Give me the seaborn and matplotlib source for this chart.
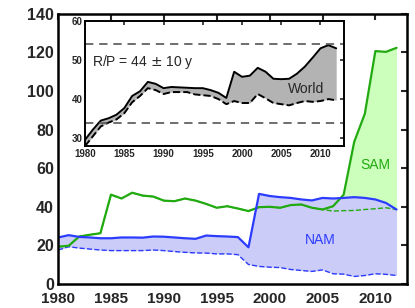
import numpy as np
import pandas as pd
import matplotlib
matplotlib.use('Agg')
import matplotlib.pyplot as plt
import seaborn as sns

# Years shared by all series
years = list(range(1980, 2013))

# North America: upper (solid) and lower (dashed) estimates
nam_hi = [24.1, 25.3, 24.4, 24.1, 23.7, 23.7, 24.1, 24.1, 24.0, 24.6, 24.5,
          24.1, 23.7, 23.4, 25.1, 24.8, 24.6, 24.3, 19.0, 46.7, 45.6,
          45.0, 44.6, 43.8, 43.3, 44.6, 44.3, 44.6, 45.0, 44.6, 43.8, 42.0, 38.6]
nam_lo = [17.6, 19.3, 18.6, 18.1, 17.6, 17.3, 17.3, 17.3, 17.3, 17.6, 17.3,
          16.8, 16.4, 16.1, 16.0, 15.6, 15.6, 15.2, 10.1, 9.1, 8.7,
          8.5, 7.5, 7.0, 6.5, 7.3, 5.3, 5.1, 3.9, 4.4, 5.3, 5.0, 4.4]

# South America
sam_hi = [19.3, 19.8, 24.6, 25.5, 26.3, 46.3, 44.3, 47.3, 45.8, 45.3, 43.2,
          42.9, 44.3, 43.2, 41.5, 39.5, 40.3, 39.1, 37.8, 39.8, 40.0,
          39.5, 40.9, 41.2, 39.5, 38.6, 40.3, 46.3, 73.7, 88.2, 120.7, 120.3, 122.4]
sam_lo = [19.3, 19.8, 24.6, 25.5, 26.3, 46.3, 44.3, 47.3, 45.8, 45.3, 43.2,
          42.9, 44.3, 43.2, 41.5, 39.5, 40.3, 39.1, 37.8, 39.8, 40.0,
          39.5, 40.9, 41.2, 39.5, 38.6, 37.8, 38.0, 38.1, 38.6, 39.0, 39.5, 38.6]

# World (inset)
world_hi = [29.6, 32.2, 34.5, 35.1, 36.0, 37.7, 40.8, 42.0, 44.4, 43.9, 42.8,
            43.1, 43.0, 42.9, 42.8, 42.8, 42.3, 41.6, 40.3, 47.0, 45.7,
            46.0, 48.0, 47.0, 45.2, 45.1, 45.2, 46.5, 48.3, 50.6, 53.0, 53.8, 53.0]
world_lo = [28.0, 30.5, 33.0, 34.0, 34.8, 36.4, 39.2, 40.8, 42.8, 42.3, 41.3,
            41.8, 41.8, 41.8, 41.2, 41.0, 40.8, 40.0, 38.7, 39.5, 39.0,
            39.0, 41.3, 40.2, 39.0, 38.7, 38.4, 39.0, 39.5, 39.3, 39.5, 40.0, 39.7]

rp_mean, rp_err = 44, 10

df = pd.DataFrame({'year': years, 'nam_hi': nam_hi, 'nam_lo': nam_lo,
                   'sam_hi': sam_hi, 'sam_lo': sam_lo,
                   'world_hi': world_hi, 'world_lo': world_lo})

sns.set_style('white')
plt.rcParams['font.family'] = ['Liberation Sans', 'DejaVu Sans']

green = '#22aa11'
blue = '#2b3cff'

fig = plt.figure(figsize=(4.15, 3.08), dpi=100)
ax = fig.add_axes([0.140, 0.078, 0.841, 0.877])

# SAM band first, NAM band on top of it
ax.fill_between(df['year'], df['sam_lo'], df['sam_hi'], color='#ccffbb', lw=0)
ax.fill_between(df['year'], df['nam_lo'], df['nam_hi'], color='#ccccf8', lw=0)
sns.lineplot(data=df, x='year', y='sam_lo', ax=ax, color=green, lw=1.0, linestyle='--')
sns.lineplot(data=df, x='year', y='nam_lo', ax=ax, color=blue, lw=1.0, linestyle='--')
sns.lineplot(data=df, x='year', y='sam_hi', ax=ax, color=green, lw=1.6)
sns.lineplot(data=df, x='year', y='nam_hi', ax=ax, color=blue, lw=1.6)

ax.text(2010, 61.5, 'SAM', color=green, fontsize=10, ha='center', va='center')
ax.text(2004.8, 23, 'NAM', color=blue, fontsize=10, ha='center', va='center')

ax.set_xlim(1980, 2013)
ax.set_ylim(0, 140)
ax.set_xticks(range(1980, 2011, 5))
ax.set_yticks(range(0, 141, 20))
ax.set_xlabel('')
ax.set_ylabel('')
ax.tick_params(direction='in', top=True, right=True, length=4, width=1.5,
               labelsize=11.5, pad=3)
ax.tick_params(axis='x', pad=6, labelsize=11)
for lab in ax.get_xticklabels() + ax.get_yticklabels():
    lab.set_fontweight('bold')
for s in ax.spines.values():
    s.set_linewidth(1.8)
    s.set_color('black')

# Inset: world R/P
ins = fig.add_axes([0.205, 0.526, 0.624, 0.406])
ins.fill_between(df['year'], df['world_lo'], df['world_hi'], color='#b3b3b3', lw=0)
sns.lineplot(data=df, x='year', y='world_hi', ax=ins, color='black', lw=1.4)
sns.lineplot(data=df, x='year', y='world_lo', ax=ins, color='black', lw=1.4, linestyle='--')
ins.axhline(rp_mean + rp_err, color='#555555', lw=1.2, ls='--', dashes=(5, 3.5))
ins.axhline(rp_mean - rp_err, color='#555555', lw=1.2, ls='--', dashes=(5, 3.5))
ins.text(1980.9, 49.6, 'R/P = %d $\\pm$ %d y' % (rp_mean, rp_err), fontsize=10,
         ha='left', va='center')
ins.text(2008.2, 42.6, 'World', fontsize=10, ha='center', va='center')

ins.set_xlim(1980, 2013)
ins.set_ylim(28, 60)
ins.set_xticks(range(1980, 2011, 5))
ins.set_yticks(range(30, 61, 10))
ins.set_xlabel('')
ins.set_ylabel('')
ins.tick_params(direction='in', top=True, right=True, length=3, width=1.2,
                labelsize=7, pad=2)
for lab in ins.get_xticklabels() + ins.get_yticklabels():
    lab.set_fontweight('bold')
for s in ins.spines.values():
    s.set_linewidth(1.4)
    s.set_color('black')

fig.savefig('out.png', dpi=100)
